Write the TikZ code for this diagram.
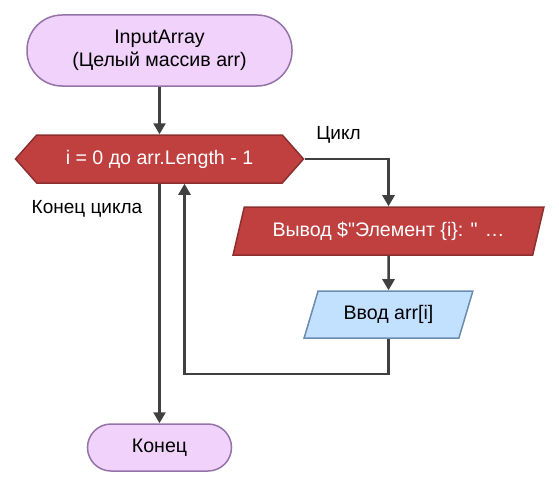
\documentclass[tikz,border=0pt]{standalone}
\usepackage{fontspec}
\setmainfont{Liberation Sans}
\usetikzlibrary{shapes.geometric,shapes.symbols,arrows.meta}
\definecolor{termfill}{HTML}{F0D2FA}
\definecolor{termline}{HTML}{9474A8}
\definecolor{redfill}{HTML}{C04040}
\definecolor{redline}{HTML}{8E2F2F}
\definecolor{bluefill}{HTML}{C2E0FF}
\definecolor{blueline}{HTML}{6A8CAE}
\definecolor{conncol}{HTML}{404040}
\tikzset{
  term/.style={rectangle, draw=termline, fill=termfill, line width=1.5pt, inner sep=0pt, align=center},
  loopbox/.style={signal, signal to=west and east, signal pointer angle=97, draw=redline, fill=redfill, line width=1.5pt, text=white, inner sep=0pt, minimum width=288pt, minimum height=48pt},
  iobox/.style={trapezium, trapezium left angle=64, trapezium right angle=116, trapezium stretches=true, line width=1.5pt, inner sep=0pt},
  conn/.style={draw=conncol, line width=2.5pt, -{Triangle[length=11pt,width=12pt]}},
  lbl/.style={inner sep=0pt, font=\fontsize{19}{23}\selectfont}
}
\begin{document}
\begin{tikzpicture}[x=1pt,y=-1pt,font=\fontsize{19.6}{23.5}\selectfont]
\useasboundingbox[fill=white] (0,0) rectangle (559,487);
\node[term, minimum width=265pt, minimum height=71pt, rounded corners=35pt] (start) at (159.5,50.5) {InputArray\\(Целый массив arr)};
\node[loopbox] (loop) at (159.5,159) {i = 0 до arr.Length - 1};
\node[iobox, draw=redline, fill=redfill, text=white, minimum width=311pt, minimum height=48pt] (out) at (388.5,231) {Вывод \$\textquotedbl Элемент \{i\}: \textquotedbl{} …};
\node[iobox, draw=blueline, fill=bluefill, minimum width=169pt, minimum height=47pt] (in) at (388.5,314.5) {Ввод arr[i]};
\node[term, minimum width=144pt, minimum height=47pt, rounded corners=23.5pt] (end) at (159.5,447.5) {Конец};
\node[lbl] (lcyc) at (338.5,135) {Цикл};
\node[lbl] (lend) at (87,209) {Конец цикла};
\coordinate (back) at (184.5,374);
\draw[conn] (start.south) -- (loop.north);
\draw[conn] (loop.east) -| (out.north);
\draw[conn] (out.south) -- (in.north);
\draw[conn] (in.south) |- (back) -- (back |- loop.south);
\draw[conn] (loop.south) -- (end.north);
\end{tikzpicture}
\end{document}
